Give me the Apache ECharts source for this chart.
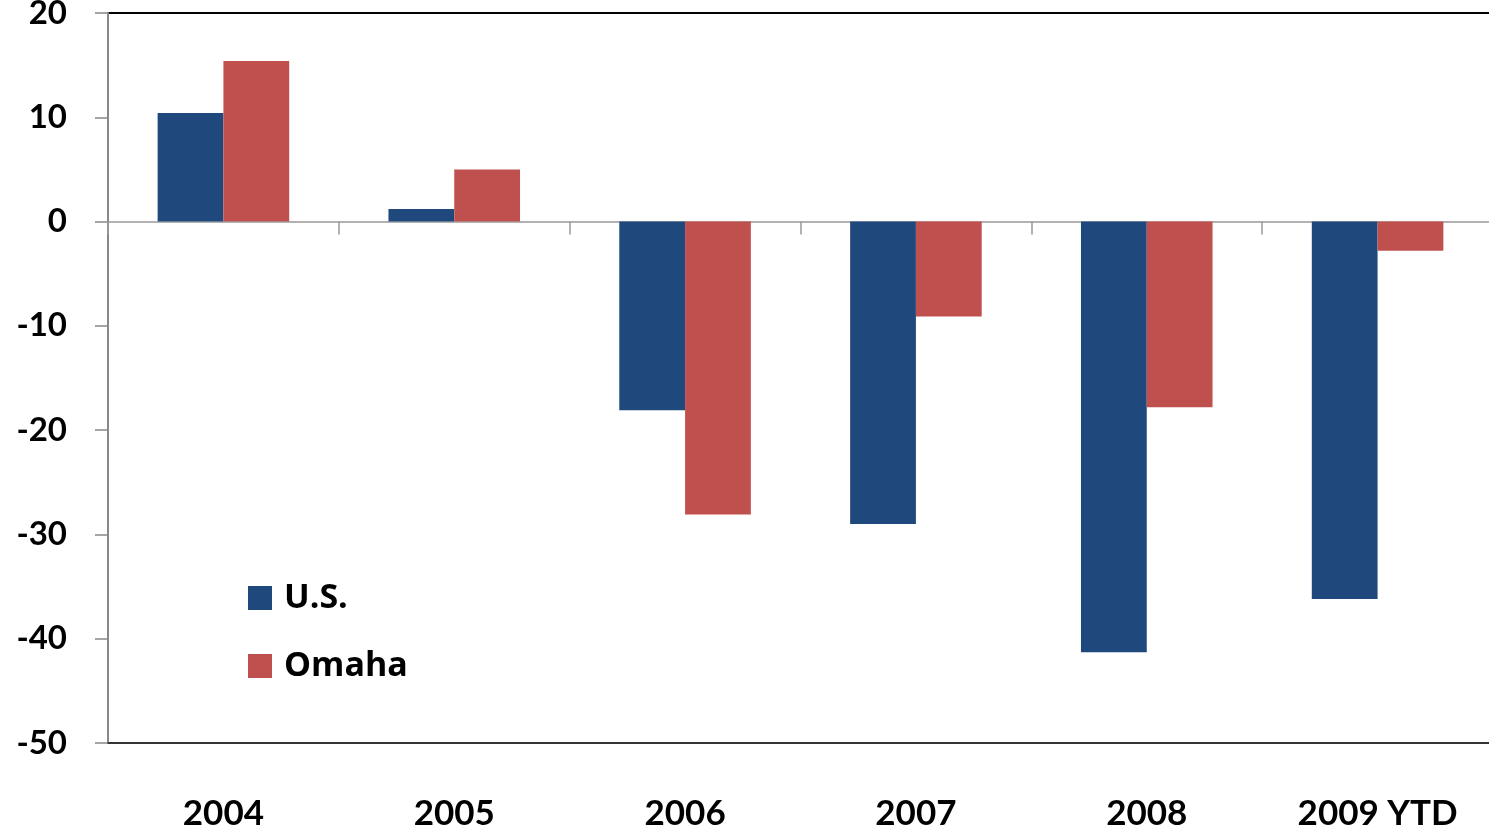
<!DOCTYPE html>
<html>
<head>
<meta charset="utf-8">
<script src="https://cdn.jsdelivr.net/npm/echarts@6/dist/echarts.min.js"></script>
<style>html,body{margin:0;padding:0;background:#fff;}#c{width:1489px;height:834px;}</style>
</head>
<body>
<div id="c"></div>
<script>
const categories = ['2004', '2005', '2006', '2007', '2008', '2009 YTD'];
const usValues = [10.4, 1.2, -18.1, -29.0, -41.3, -36.2];
const omahaValues = [15.4, 5.0, -28.1, -9.1, -17.8, -2.8];
const seriesNames = ['U.S.', 'Omaha'];

const chart = echarts.init(document.getElementById('c'));
chart.setOption({
  animation: false,
  backgroundColor: '#fff',
  textStyle: { fontFamily: 'Lato' },
  grid: { left: 108, right: -4, top: 13, bottom: 91, outerBoundsMode: 'none', containLabel: false, show: true, borderColor: '#000', borderWidth: 2, backgroundColor: 'transparent' },
  legend: {
    orient: 'vertical', left: 243, top: 573,
    itemWidth: 24, itemHeight: 24, itemGap: 28, icon: 'rect',
    data: seriesNames,
    textStyle: { fontSize: 34, fontWeight: 'bold', color: '#000', lineHeight: 40, padding: [0, 0, 0, 7], fontFamily: 'Open Sans' }
  },
  xAxis: [
    {
      type: 'category', data: categories, position: 'bottom',
      axisLine: { onZero: false, lineStyle: { color: '#333', width: 2 } },
      axisTick: { show: false },
      axisLabel: { fontSize: 35, fontWeight: 'bold', color: '#000', margin: 53, fontFamily: 'Lato' },
      splitLine: { show: false }
    },
    {
      type: 'category', data: categories, position: 'top',
      axisLine: { onZero: true, onZeroAxisIndex: 0, lineStyle: { color: '#999', width: 1.5 } },
      axisTick: { show: true, inside: true, length: 13, lineStyle: { color: '#999', width: 1.5 } },
      axisLabel: { show: false },
      splitLine: { show: false }
    }
  ],
  yAxis: {
    type: 'value', min: -50, max: 20, interval: 10,
    axisLine: { show: true, lineStyle: { color: '#888', width: 2 } },
    axisTick: { show: true, length: 13, lineStyle: { color: '#888', width: 1.5 } },
    axisLabel: { fontSize: 33, fontWeight: 'bold', color: '#000', margin: 41, fontFamily: 'Lato' },
    splitLine: { show: false }
  },
  series: [
    { name: seriesNames[0], type: 'bar', xAxisIndex: 0, data: usValues, barGap: '0%', barCategoryGap: '43%', itemStyle: { color: '#1F497D' } },
    { name: seriesNames[1], type: 'bar', xAxisIndex: 0, data: omahaValues, barGap: '0%', barCategoryGap: '43%', itemStyle: { color: '#C0504D' } }
  ]
});
</script>
</body>
</html>
